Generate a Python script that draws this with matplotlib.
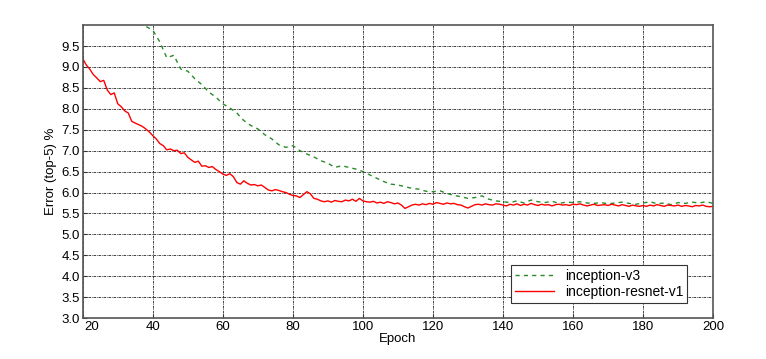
import numpy as np
import matplotlib
matplotlib.use("Agg")
import matplotlib.pyplot as plt
import matplotlib.transforms as mtransforms

plt.rcParams['font.family'] = ['Liberation Sans', 'DejaVu Sans']

# inception-resnet-v1 (red), one value per epoch from 20 to 200
resnet_epochs = list(range(20, 201))
resnet_err = [
    9.20,                                                          # 20
    9.05, 8.95, 8.82, 8.74, 8.65, 8.68, 8.45, 8.34, 8.38, 8.12,    # 21-30
    8.05, 7.95, 7.90, 7.70, 7.66, 7.62, 7.58, 7.52, 7.45, 7.36,    # 31-40
    7.28, 7.17, 7.12, 7.02, 7.04, 7.00, 7.01, 6.93, 6.95, 6.84,    # 41-50
    6.78, 6.72, 6.75, 6.63, 6.64, 6.60, 6.62, 6.55, 6.50, 6.44,    # 51-60
    6.41, 6.45, 6.38, 6.24, 6.20, 6.28, 6.22, 6.18, 6.19, 6.16,    # 61-70
    6.18, 6.12, 6.06, 6.04, 6.07, 6.05, 6.02, 6.00, 5.96, 5.93,    # 71-80
    5.92, 5.88, 5.95, 6.02, 5.97, 5.86, 5.84, 5.80, 5.78, 5.80,    # 81-90
    5.77, 5.81, 5.79, 5.78, 5.82, 5.80, 5.84, 5.79, 5.86, 5.80,    # 91-100
    5.78, 5.77, 5.79, 5.75, 5.77, 5.74, 5.78, 5.76, 5.73, 5.75,    # 101-110
    5.70, 5.62, 5.66, 5.70, 5.72, 5.70, 5.73, 5.71, 5.74, 5.72,    # 111-120
    5.76, 5.74, 5.72, 5.75, 5.73, 5.74, 5.71, 5.70, 5.66, 5.63,    # 121-130
    5.67, 5.71, 5.72, 5.70, 5.73, 5.71, 5.70, 5.73, 5.72, 5.70,    # 131-140
    5.68, 5.72, 5.70, 5.73, 5.69, 5.72, 5.70, 5.74, 5.71, 5.69,    # 141-150
    5.72, 5.70, 5.71, 5.68, 5.71, 5.72, 5.70, 5.71, 5.69, 5.72,    # 151-160
    5.71, 5.73, 5.70, 5.68, 5.70, 5.72, 5.69, 5.70, 5.71, 5.69,    # 161-170
    5.72, 5.70, 5.68, 5.71, 5.69, 5.67, 5.70, 5.68, 5.67, 5.69,    # 171-180
    5.67, 5.70, 5.68, 5.71, 5.69, 5.67, 5.70, 5.69, 5.68, 5.70,    # 181-190
    5.67, 5.69, 5.68, 5.66, 5.69, 5.68, 5.70, 5.67, 5.66, 5.67,    # 191-200
]

# inception-v3 (green dashed), every 2 epochs from 36 to 200
v3_epochs = list(range(36, 201, 2))
v3_err = [
    10.05, 9.97, 9.88, 9.60, 9.22, 9.28, 8.95, 8.90, 8.72, 8.58,  # 36-54
    8.40, 8.28, 8.12, 8.02, 7.90, 7.72, 7.60, 7.52, 7.38, 7.28,   # 56-74
    7.14, 7.08, 7.12, 7.00, 6.92, 6.85, 6.76, 6.70, 6.60, 6.64,   # 76-94
    6.60, 6.56, 6.50, 6.42, 6.34, 6.26, 6.20, 6.18, 6.14, 6.10,   # 96-114
    6.08, 6.03, 6.02, 6.04, 5.98, 5.93, 5.90, 5.86, 5.88, 5.92,   # 116-134
    5.84, 5.80, 5.78, 5.76, 5.80, 5.75, 5.82, 5.78, 5.76, 5.79,   # 136-154
    5.74, 5.77, 5.76, 5.78, 5.75, 5.74, 5.76, 5.73, 5.75, 5.77,   # 156-174
    5.74, 5.72, 5.75, 5.78, 5.73, 5.75, 5.71, 5.76, 5.74, 5.77,   # 176-194
    5.75, 5.78, 5.74,                                             # 196-200
]

y_ticks = [3.0, 3.5, 4.0, 4.5, 5.0, 5.5, 6.0, 6.5, 7.0, 7.5, 8.0, 8.5, 9.0, 9.5]
x_ticks = list(range(20, 201, 20))

fig = plt.figure(figsize=(7.66, 3.59), dpi=100)
ax = fig.add_axes([0.108, 0.114, 0.823, 0.816])

ax.plot(v3_epochs, v3_err, color='#2a8a2a', linestyle='--', dashes=(3, 3),
        linewidth=1.0, label='inception-v3')
ax.plot(resnet_epochs, resnet_err, color='red', linestyle='-',
        linewidth=1.0, label='inception-resnet-v1')

ax.set_xlim(20, 200)
ax.set_ylim(3.0, 10.0)
ax.set_xticks(x_ticks)
ax.set_yticks(y_ticks)
ax.set_yticklabels([f"{v:.1f}" for v in y_ticks])
ax.tick_params(labelsize=9.5, direction='in', length=3, color='#333333', pad=2)

# first x label sits just right of the corner so it clears "3.0"
first = ax.get_xticklabels()[0]
first.set_horizontalalignment('left')
first.set_transform(first.get_transform() +
                    mtransforms.ScaledTranslation(2 / 100, 0, fig.dpi_scale_trans))

ax.grid(True, color='#222222', linestyle=(0, (3, 1, 1, 1)), linewidth=0.6)
for s in ax.spines.values():
    s.set_color('#555555')
    s.set_linewidth(1.2)

ax.set_xlabel('Epoch', fontsize=9.5, labelpad=0)
ax.set_ylabel('Error (top-5) %', fontsize=9.5, labelpad=3)

leg = ax.legend(loc='lower right', bbox_to_anchor=(0.959, 0.051), fontsize=10,
                fancybox=False, framealpha=1, edgecolor='#333333',
                handlelength=2.8, borderpad=0.3, labelspacing=0.15,
                borderaxespad=0)
leg.get_frame().set_linewidth(0.8)

fig.savefig('out.png', dpi=100)
